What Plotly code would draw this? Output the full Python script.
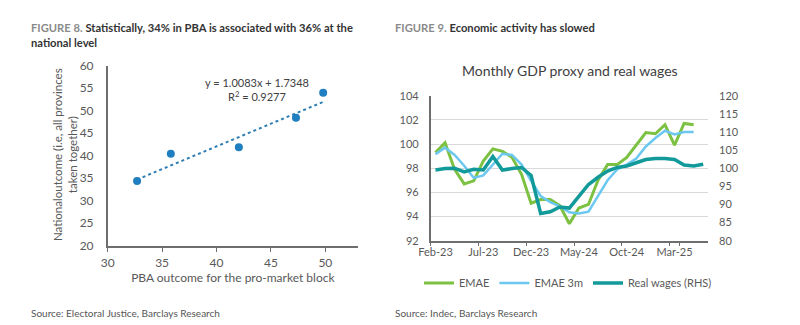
import plotly.graph_objects as go

# ---------------- Figure 8 data ----------------
pba_outcome = [32.7, 35.8, 42.05, 47.3, 49.8]
national_outcome = [34.4, 40.45, 41.9, 48.45, 54.0]
trend_slope = 1.0083
trend_intercept = 1.7348
r_squared = 0.9277
left_x_ticks = [30, 35, 40, 45, 50]
left_y_ticks = [20, 25, 30, 35, 40, 45, 50, 55, 60]

# ---------------- Figure 9 data ----------------
months = ["Feb-23", "Mar-23", "Apr-23", "May-23", "Jun-23", "Jul-23", "Aug-23", "Sep-23",
          "Oct-23", "Nov-23", "Dec-23", "Jan-24", "Feb-24", "Mar-24", "Apr-24", "May-24",
          "Jun-24", "Jul-24", "Aug-24", "Sep-24", "Oct-24", "Nov-24", "Dec-24", "Jan-25",
          "Feb-25", "Mar-25", "Apr-25", "May-25", "Jun-25"]
emae = [99.3, 100.1, 97.9, 96.7, 96.95, 98.6, 99.6, 99.4, 98.9, 97.5, 95.1, 95.4, 95.4, 94.9,
        93.4, 94.7, 95.0, 97.0, 98.3, 98.3, 98.9, 99.9, 100.95, 100.85, 101.6, 99.9, 101.7, 101.6]
emae_3m = [99.15, 99.7, 99.1, 98.2, 97.2, 97.4, 98.3, 99.2, 99.1, 98.3, 96.95, 95.7, 95.2, 94.85,
           94.35, 94.26, 94.4, 95.65, 97.0, 97.9, 98.3, 98.8, 99.8, 100.5, 101.1, 100.8, 101.0, 101.0]
real_wages = [99.5, 99.9, 100.0, 99.0, 99.7, 99.5, 103.2, 99.5, 99.9, 100.2, 98.0, 87.5, 88.0,
              89.3, 89.0, 92.3, 95.5, 97.5, 99.2, 100.2, 100.6, 101.5, 102.4, 102.7, 102.7,
              102.4, 100.9, 100.6, 101.1]
right_x_ticks = ["Feb-23", "Jul-23", "Dec-23", "May-24", "Oct-24", "Mar-25"]

W, H = 800, 325
FONT = "Lato"
GRAY = "#595959"
AXIS = "#6e6e6e"

def px(x):
    return x / W

def py(y):
    return 1 - y / H

fig = go.Figure()

# ---- Figure 8 traces ----
trend_x = [min(pba_outcome), max(pba_outcome)]
trend_y = [trend_slope * v + trend_intercept for v in trend_x]
fig.add_trace(go.Scatter(x=trend_x, y=trend_y, mode="lines", xaxis="x", yaxis="y",
                         line=dict(color="#2f7fb5", width=2, dash="dot"), showlegend=False,
                         hoverinfo="skip"))
fig.add_trace(go.Scatter(x=pba_outcome, y=national_outcome, mode="markers", xaxis="x", yaxis="y",
                         marker=dict(color="#1f7fc0", size=8), showlegend=False))

# ---- Figure 9 traces ----
fig.add_trace(go.Scatter(x=months[:len(emae)], y=emae, mode="lines", name="EMAE",
                         xaxis="x2", yaxis="y2", line=dict(color="#7cc142", width=3)))
fig.add_trace(go.Scatter(x=months[:len(emae_3m)], y=emae_3m, mode="lines", name="EMAE 3m",
                         xaxis="x2", yaxis="y2", line=dict(color="#6cc8f0", width=2.5)))
fig.add_trace(go.Scatter(x=months, y=real_wages, mode="lines", name="Real wages (RHS)",
                         xaxis="x2", yaxis="y3", line=dict(color="#12999a", width=3.5)))

fig.update_layout(
    width=W, height=H,
    margin=dict(l=0, r=0, t=0, b=0, autoexpand=False),
    paper_bgcolor="white", plot_bgcolor="white",
    font=dict(family=FONT, color=GRAY, size=12),
    xaxis=dict(domain=[px(107.7), px(358)], range=[30, 53], tickvals=left_x_ticks,
               showline=True, linecolor=AXIS, linewidth=1.5, ticks="outside", ticklen=5,
               tickcolor=AXIS, showgrid=False, zeroline=False, anchor="y", tickangle=0,
               automargin=False, tickfont=dict(size=12, color=GRAY),
               title=dict(text="PBA outcome for the pro-market block", standoff=5,
                          font=dict(size=12, color=GRAY))),
    yaxis=dict(domain=[py(245.7), py(65.7)], range=[20, 60], tickvals=left_y_ticks,
               showline=True, linecolor=AXIS, linewidth=1.5, ticks="", showgrid=False,
               zeroline=False, anchor="x", ticklabelstandoff=10, automargin=False,
               tickfont=dict(size=12, color=GRAY)),
    xaxis2=dict(domain=[px(430.7), px(708)], type="category", categoryorder="array",
                categoryarray=months, range=[-0.5, len(months) - 0.5],
                tickmode="array", tickvals=right_x_ticks, tickson="boundaries",
                ticks="outside", ticklen=4, tickcolor=AXIS, showline=True, linecolor=AXIS,
                linewidth=1.5, showgrid=False, zeroline=False, anchor="y2", tickangle=0,
                automargin=False, tickfont=dict(size=11, color=GRAY)),
    yaxis2=dict(domain=[py(240.7), py(95.7)], range=[92, 104], dtick=2, tick0=92,
                showgrid=True, gridcolor="#d9d9d9", gridwidth=1, showline=True,
                linecolor=AXIS, linewidth=1.5, zeroline=False, anchor="x2", ticks="",
                ticklabelstandoff=8, automargin=False, tickfont=dict(size=11, color=GRAY)),
    yaxis3=dict(range=[80, 120], dtick=5, tick0=80, overlaying="y2", side="right",
                anchor="x2", showgrid=False, showline=False, zeroline=False, ticks="",
                ticklabelstandoff=10, automargin=False, tickfont=dict(size=11, color=GRAY)),
    legend=dict(orientation="h", x=px(419), y=py(283), xanchor="left", yanchor="middle",
                font=dict(size=11, color=GRAY), bgcolor="rgba(0,0,0,0)",
                itemwidth=30, tracegroupgap=0),
    showlegend=True,
)

annotations = [
    dict(text="<span style='color:#8a8a8a'><b>FIGURE 8.</b></span> <b>Statistically, 34% in PBA is associated with 36% at the<br>national level</b>",
         x=px(29), y=py(19), xanchor="left", yanchor="top", align="left",
         font=dict(size=11.2, color="#333333")),
    dict(text="<span style='color:#8a8a8a'><b>FIGURE 9.</b></span> <b>Economic activity has slowed</b>",
         x=px(393), y=py(19), xanchor="left", yanchor="top", align="left",
         font=dict(size=11.2, color="#333333")),
    dict(text="Monthly GDP proxy and real wages", x=px(570), y=py(70), xanchor="center",
         yanchor="middle", font=dict(size=14, color="#404040")),
    dict(text="Nationaloutcome (i.e, all provinces<br>taken together)", x=px(65), y=py(155),
         xanchor="center", yanchor="middle", textangle=-90, font=dict(size=11.5, color=GRAY)),
    dict(text=f"y = {trend_slope}x + {trend_intercept}<br>R<sup>2</sup> = {r_squared}",
         x=px(257), y=py(89), xanchor="center", yanchor="middle", align="center",
         font=dict(size=11, color="#404040")),
    dict(text="Source: Electoral Justice, Barclays Research", x=px(29), y=py(313),
         xanchor="left", yanchor="middle", font=dict(size=10, color="#555555")),
    dict(text="Source: Indec, Barclays Research", x=px(393), y=py(313),
         xanchor="left", yanchor="middle", font=dict(size=10, color="#555555")),
]
for a in annotations:
    a.update(xref="paper", yref="paper", showarrow=False)
fig.update_layout(annotations=annotations)

fig.write_html("out.html")
